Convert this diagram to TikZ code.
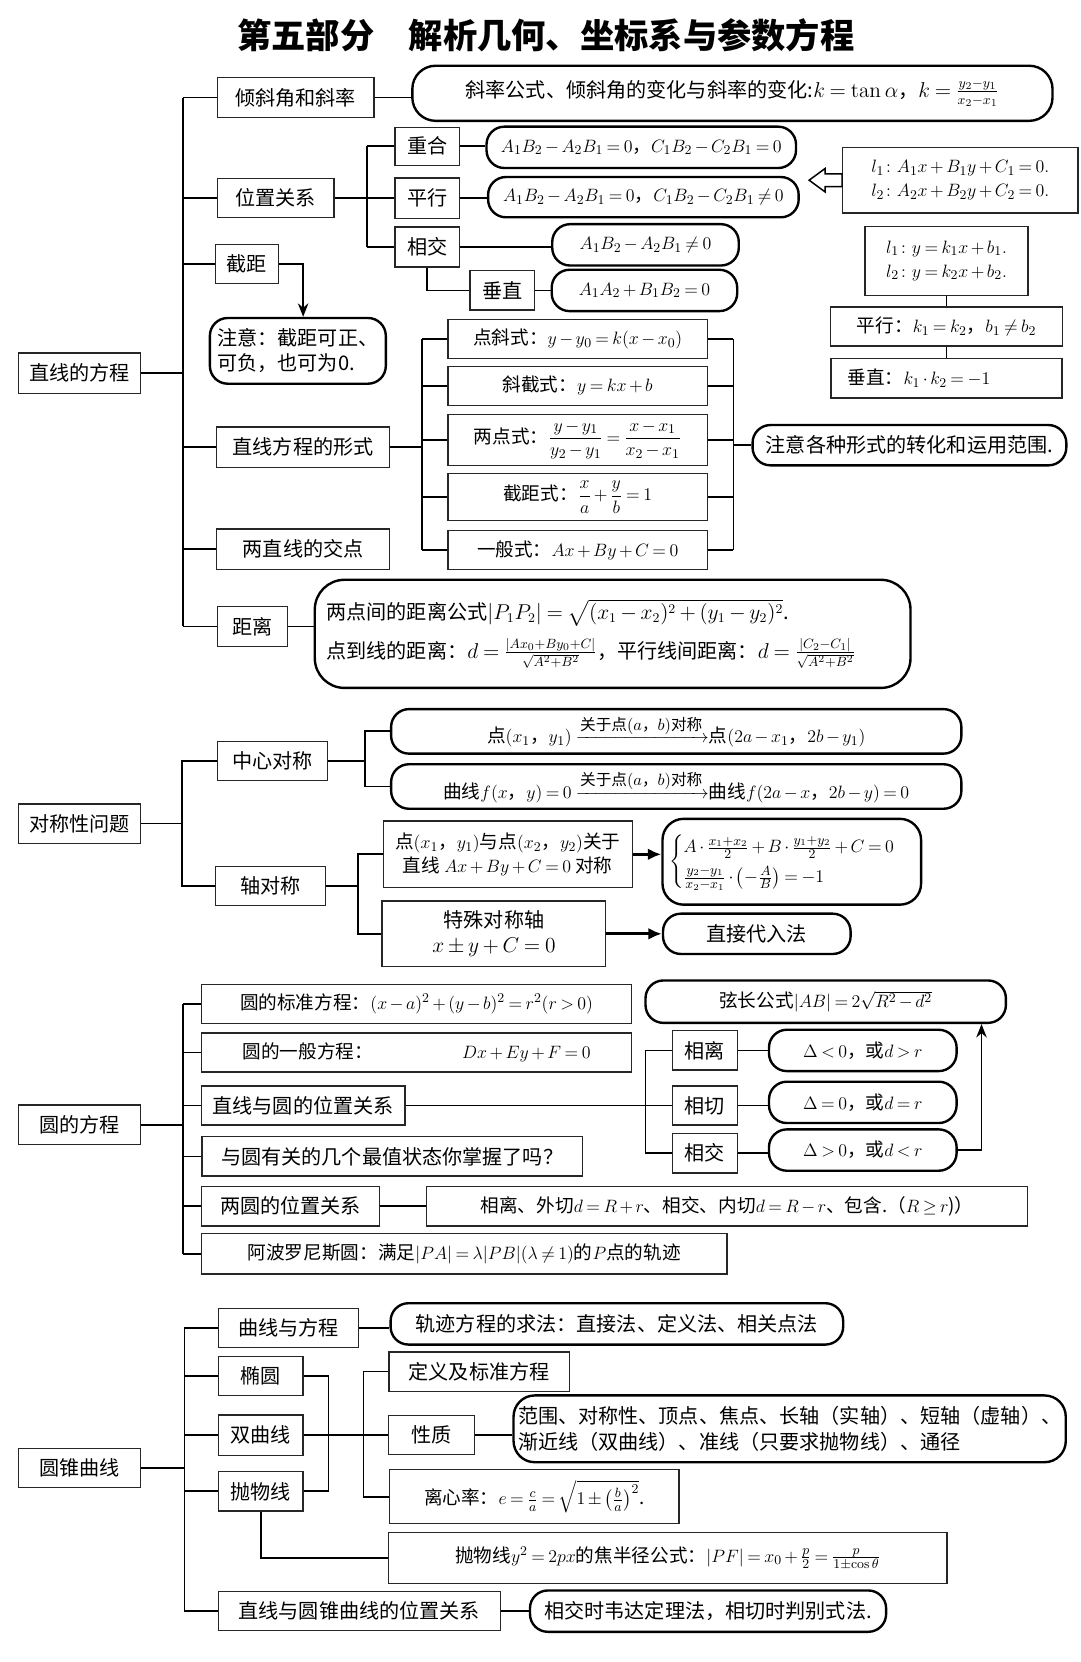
\documentclass[tikz,border=0pt]{standalone}
\usepackage{amsmath}
\usepackage[no-math]{fontspec}
\setmainfont{Noto Sans CJK SC}
\usetikzlibrary{arrows.meta, positioning}

\begin{document}
\begin{tikzpicture}[x=0.025cm, y=-0.025cm,
  font={\fontsize{13.5}{17}\selectfont\medmuskip=3mu\thickmuskip=4mu\relax},
  bx/.style={draw=black!85, line width=0.9pt, fill=white, inner sep=2pt, align=center},
  rbx/.style={draw, line width=1.6pt, rounded corners=0.42cm, fill=white, inner sep=3pt, align=center},
  fm/.style={font={\fontsize{12.5}{16}\selectfont\medmuskip=2.5mu\thickmuskip=3.5mu\relax}},
  sz/.style 2 args={minimum width=#1*0.025cm, minimum height=#2*0.025cm},
  ln/.style={line width=1.2pt},
  thk/.style={line width=2.2pt, -{Latex[length=9pt, width=8pt]}}
]
\useasboundingbox (0,0) rectangle (1019,1568);

\node[font=\fontsize{23}{26}\selectfont\bfseries] (tt) at (515,33) {第五部分\hspace{1em}解析几何、坐标系与参数方程};

% 直线的方程
\node[bx, sz={115}{38}] (zx) at (75,352) {直线的方程};
\node[bx, sz={148}{38}] (qx) at (279,92) {倾斜角和斜率};
\node[rbx, sz={604}{52}, rounded corners=0.55cm] (qx-r) at (691,88) {斜率公式、倾斜角的变化与斜率的变化:$k=\tan\alpha$，$k=\frac{y_2-y_1}{x_2-x_1}$};
\node[bx, sz={110}{37}] (wz) at (260,187) {位置关系};
\node[bx, sz={61}{36}] (ch) at (403,138) {重合};
\node[rbx, fm, sz={292}{39}] (ch-r) at (605,139) {$A_1B_2-A_2B_1=0$，$C_1B_2-C_2B_1=0$};
\node[bx, sz={61}{38}] (px) at (403,187) {平行};
\node[rbx, fm, sz={293}{38}] (px-r) at (607,186) {$A_1B_2-A_2B_1=0$，$C_1B_2-C_2B_1\neq0$};
\node[bx, sz={61}{38}] (xj) at (403,233) {相交};
\node[rbx, fm, sz={176}{39}] (xj-r) at (609,231) {$A_1B_2-A_2B_1\neq0$};
\node[bx, sz={61}{37}] (cz) at (474,274) {垂直};
\node[rbx, fm, sz={175}{39}] (cz-r) at (608,274) {$A_1A_2+B_1B_2=0$};
\node[bx, fm, sz={222}{62}, align=left] (lA) at (906,170) {$l_1\colon A_1x+B_1y+C_1=0.$\\$l_2\colon A_2x+B_2y+C_2=0.$};
\node[bx, fm, sz={154}{65}, align=left] (lB) at (893,246) {$l_1\colon y=k_1x+b_1.$\\$l_2\colon y=k_2x+b_2.$};
\node[bx, fm, sz={219}{37}] (kp) at (893,308) {平行：$k_1=k_2$，$b_1\neq b_2$};
\node[bx, fm, sz={218}{37}] (kc) at (893,357) {垂直：$k_1\cdot k_2=-1$\hspace{1.3cm}};
\node[bx, sz={60}{37}] (jj) at (233,249) {截距};
\node[rbx, sz={166}{62}, align=left] (jjn) at (281,331) {注意：截距可正、\\可负，也可为0.};
\node[bx, sz={163}{38}] (xs) at (286,422) {直线方程的形式};
\node[bx, fm, sz={245}{37}] (d1) at (545,320) {点斜式：$y-y_0=k(x-x_0)$};
\node[bx, fm, sz={245}{37}] (d2) at (545,364) {斜截式：$y=kx+b$};
\node[bx, fm, sz={245}{48}] (d3) at (545,415) {两点式：$\dfrac{y-y_1}{y_2-y_1}=\dfrac{x-x_1}{x_2-x_1}$};
\node[bx, fm, sz={245}{44}] (d4) at (545,469) {截距式：$\dfrac{x}{a}+\dfrac{y}{b}=1$};
\node[bx, fm, sz={245}{37}] (d5) at (545,519) {一般式：$Ax+By+C=0$};
\node[rbx, sz={296}{38}] (zy) at (858,420) {注意各种形式的转化和运用范围.};
\node[bx, sz={163}{38}] (jd) at (286,518) {两直线的交点};
\node[bx, sz={66}{38}] (jl) at (238,591) {距离};
\node[rbx, sz={562}{102}, rounded corners=0.7cm, align=left, inner sep=5pt, text width=540*0.025cm] (jl-r) at (578,598) {两点间的距离公式$|P_1P_2|=\sqrt{(x_1-x_2)^2+(y_1-y_2)^2}$.\\[7pt]
点到线的距离：$d=\frac{|Ax_0+By_0+C|}{\sqrt{A^2+B^2}}$，平行线间距离：$d=\frac{|C_2-C_1|}{\sqrt{A^2+B^2}}$};

\coordinate (t1) at (173,0);
\coordinate (t2) at (346,0);
\coordinate (t3) at (286,0);
\coordinate (t4) at (398,0);
\coordinate (t5) at (692,0);
\draw[ln] (zx.east) -- (zx.east -| t1);
\draw[ln] (qx.west -| t1) -- (jl.west -| t1);
\foreach \n in {qx,wz,jj,xs,jd,jl}
  \draw[ln] (\n.west) -- (\n.west -| t1);
\draw[ln] (qx.east) -- (qx.east -| qx-r.west);
\draw[ln] (wz.east) -- (wz.east -| t2);
\draw[ln] (ch.west -| t2) -- (xj.west -| t2);
\foreach \n in {ch,px,xj}
  \draw[ln] (\n.west) -- (\n.west -| t2);
\foreach \n in {ch,px,xj,cz}
  \draw[ln] (\n.east) -- (\n.east -| \n-r.west);
\draw[ln] (xj.south) |- (cz.west);
\draw[line width=1pt, fill=white] (lA.west) ++(0,-6) -- ++(-16,0) -- ++(0,-5) -- ++(-15,11)
  -- ++(15,11) -- ++(0,-5) -- ++(16,0) -- cycle;
\draw[ln] (lB.south) -- (kp.north);
\draw[ln] (kp.south) -- (kc.north);
\draw[ln, -{Stealth[length=9pt, width=7pt]}] (jj.east) -| (jjn.north -| t3);
\draw[ln] (xs.east) -- (xs.east -| t4);
\draw[ln] (d1.west -| t4) -- (d5.west -| t4);
\draw[ln] (d1.east -| t5) -- (d5.east -| t5);
\foreach \i in {1,...,5} {
  \draw[ln] (d\i.west) -- (d\i.west -| t4);
  \draw[ln] (d\i.east) -- (d\i.east -| t5);
}
\draw[ln] (zy.west -| t5) -- (zy.west);
\draw[ln] (jl.east) -- (jl.east -| jl-r.west);

% 对称性问题
\node[bx, sz={115}{37}] (dc) at (75,777) {对称性问题};
\node[bx, sz={104}{37}] (zxd) at (257,718) {中心对称};
\node[rbx, fm, sz={538}{42}] (c1) at (638,690) {点$(x_1$，$y_1)$\ $\xrightarrow{\hbox{\fontsize{10.5}{12}\selectfont 关于点$(a$，$b)$对称}}$点$(2a-x_1$，$2b-y_1)$};
\node[rbx, fm, sz={538}{42}] (c2) at (638,742) {曲线$f(x$，$y)=0$\ $\xrightarrow{\hbox{\fontsize{10.5}{12}\selectfont 关于点$(a$，$b)$对称}}$曲线$f(2a-x$，$2b-y)=0$};
\node[bx, sz={104}{37}] (zd) at (255,836) {轴对称};
\node[bx, fm, sz={235}{63}] (a1) at (479,806) {点$(x_1$，$y_1)$与点$(x_2$，$y_2)$关于\\直线 $Ax+By+C=0$ 对称};
\node[rbx, fm, sz={244}{81}, rounded corners=0.5cm, inner sep=1pt] (a1-r) at (747,813) {$\begin{cases}A\cdot\frac{x_1+x_2}{2}+B\cdot\frac{y_1+y_2}{2}+C=0\\[1pt]\frac{y_2-y_1}{x_2-x_1}\cdot\left(-\frac{A}{B}\right)=-1\end{cases}$};
\node[bx, sz={211}{62}] (a2) at (466,881) {特殊对称轴\\$x\pm y+C=0$};
\node[rbx, sz={177}{38}] (a2-r) at (714,881) {直接代入法};

\coordinate (t6) at (172,0);
\coordinate (t7) at (344,0);
\coordinate (t8) at (338,0);
\draw[ln] (dc.east) -- (dc.east -| t6);
\draw[ln] (zxd.west) -| (zd.west -| t6) -- (zd.west);
\draw[ln] (zxd.east) -- (zxd.east -| t7);
\draw[ln] (c1.west) -| (c2.west -| t7) -- (c2.west);
\draw[ln] (zd.east) -- (zd.east -| t8);
\draw[ln] (a1.west) -| (a2.west -| t8) -- (a2.west);
\draw[thk] (a1.east) -- (a1.east -| a1-r.west);
\draw[thk] (a2.east) -- (a2-r.west);

% 圆的方程
\node[bx, sz={115}{37}] (yf) at (75,1061) {圆的方程};
\node[bx, fm, sz={406}{37}] (y1) at (393,947) {圆的标准方程：$(x-a)^2+(y-b)^2=r^2(r>0)$};
\node[bx, fm, sz={406}{37}] (y2) at (393,993) {圆的一般方程：\hspace{2.1cm}$Dx+Ey+F=0$};
\node[bx, sz={192}{37}] (y3) at (286,1043) {直线与圆的位置关系};
\node[bx, sz={359}{37}] (y4) at (370,1091) {与圆有关的几个最值状态你掌握了吗？};
\node[bx, sz={168}{37}] (y5) at (274,1138) {两圆的位置关系};
\node[bx, fm, sz={567}{37}] (y5-r) at (686,1138) {相离、外切$d=R+r$、相交、内切$d=R-r$、包含.（$R\geq r$)）};
\node[bx, fm, sz={496}{38}] (y6) at (438,1183) {阿波罗尼斯圆：满足$|PA|=\lambda|PB|(\lambda\neq1)$的$P$点的轨迹};
\node[bx, sz={61}{37}] (r1) at (665,991) {相离};
\node[rbx, fm, sz={177}{39}] (r1-r) at (814,991) {$\Delta<0$，或$d>r$};
\node[bx, sz={61}{37}] (r2) at (665,1043) {相切};
\node[rbx, fm, sz={177}{39}] (r2-r) at (814,1040) {$\Delta=0$，或$d=r$};
\node[bx, sz={61}{37}] (r3) at (665,1088) {相交};
\node[rbx, fm, sz={177}{39}] (r3-r) at (814,1085) {$\Delta>0$，或$d<r$};
\node[rbx, fm, sz={340}{40}] (xc) at (779,945) {弦长公式$|AB|=2\sqrt{R^2-d^2}$};

\coordinate (t9) at (173,0);
\coordinate (t10) at (609,0);
\coordinate (t11) at (926,0);
\draw[ln] (yf.east) -- (yf.east -| t9);
\draw[ln] (y1.west -| t9) -- (y6.west -| t9);
\foreach \i in {1,...,6}
  \draw[ln] (y\i.west) -- (y\i.west -| t9);
\draw[ln] (y3.east) -- (r2.west);
\draw[ln] (r1.west) -| (r3.west -| t10) -- (r3.west);
\foreach \n in {r1,r2,r3}
  \draw[ln] (\n.east) -- (\n.east -| \n-r.west);
\draw[ln, -{Stealth[length=9pt, width=7pt]}] (r3-r.east) -| (xc.south -| t11);
\draw[ln] (y5.east) -- (y5-r.west);

% 圆锥曲线
\node[bx, sz={115}{37}] (yz) at (75,1385) {圆锥曲线};
\node[bx, sz={132}{37}] (q1) at (272,1253) {曲线与方程};
\node[rbx, sz={427}{39}] (q1-r) at (582,1249) {轨迹方程的求法：直接法、定义法、相关点法};
\node[bx, sz={80}{37}] (q2) at (246,1298) {椭圆};
\node[bx, sz={80}{38}] (q3) at (246,1354) {双曲线};
\node[bx, sz={80}{37}] (q4) at (246,1407) {抛物线};
\node[bx, sz={170}{37}] (dy) at (452,1294) {定义及标准方程};
\node[bx, sz={81}{37}] (xz) at (407,1354) {性质};
\node[rbx, sz={521}{63}, align=left, inner sep=1.5pt, rounded corners=0.5cm] (xz-r) at (745,1348) {范围、对称性、顶点、焦点、长轴（实轴）、短轴（虚轴）、\\渐近线（双曲线）、准线（只要求抛物线）、通径\hspace{4.5cm}};
\node[bx, fm, sz={273}{51}] (lx) at (504,1412) {离心率：$e=\frac{c}{a}=\sqrt{1\pm\left(\frac{b}{a}\right)^2}$.};
\node[bx, fm, sz={527}{48}] (jb) at (630,1470) {抛物线$y^2=2px$的焦半径公式：$|PF|=x_0+\frac{p}{2}=\frac{p}{1\pm\cos\theta}$};
\node[bx, sz={266}{37}] (q5) at (339,1520) {直线与圆锥曲线的位置关系};
\node[rbx, sz={336}{39}] (q5-r) at (668,1520) {相交时韦达定理法，相切时判别式法.};

\coordinate (t12) at (174,0);
\coordinate (t13) at (310,0);
\coordinate (t14) at (343,0);
\draw[ln] (yz.east) -- (yz.east -| t12);
\draw[ln] (q1.west -| t12) -- (q5.west -| t12);
\foreach \n in {q1,q2,q3,q4,q5}
  \draw[ln] (\n.west) -- (\n.west -| t12);
\draw[ln] (q1.east) -- (q1.east -| q1-r.west);
\draw[ln] (q2.east) -| (q4.east -| t13) -- (q4.east);
\draw[ln] (q3.east) -- (xz.west);
\draw[ln] (dy.west) -| (lx.west -| t14) -- (lx.west);
\draw[ln] (xz.east) -- (xz.east -| xz-r.west);
\draw[ln] (q4.south) |- (jb.west);
\draw[ln] (q5.east) -- (q5-r.west);
\end{tikzpicture}
\end{document}
